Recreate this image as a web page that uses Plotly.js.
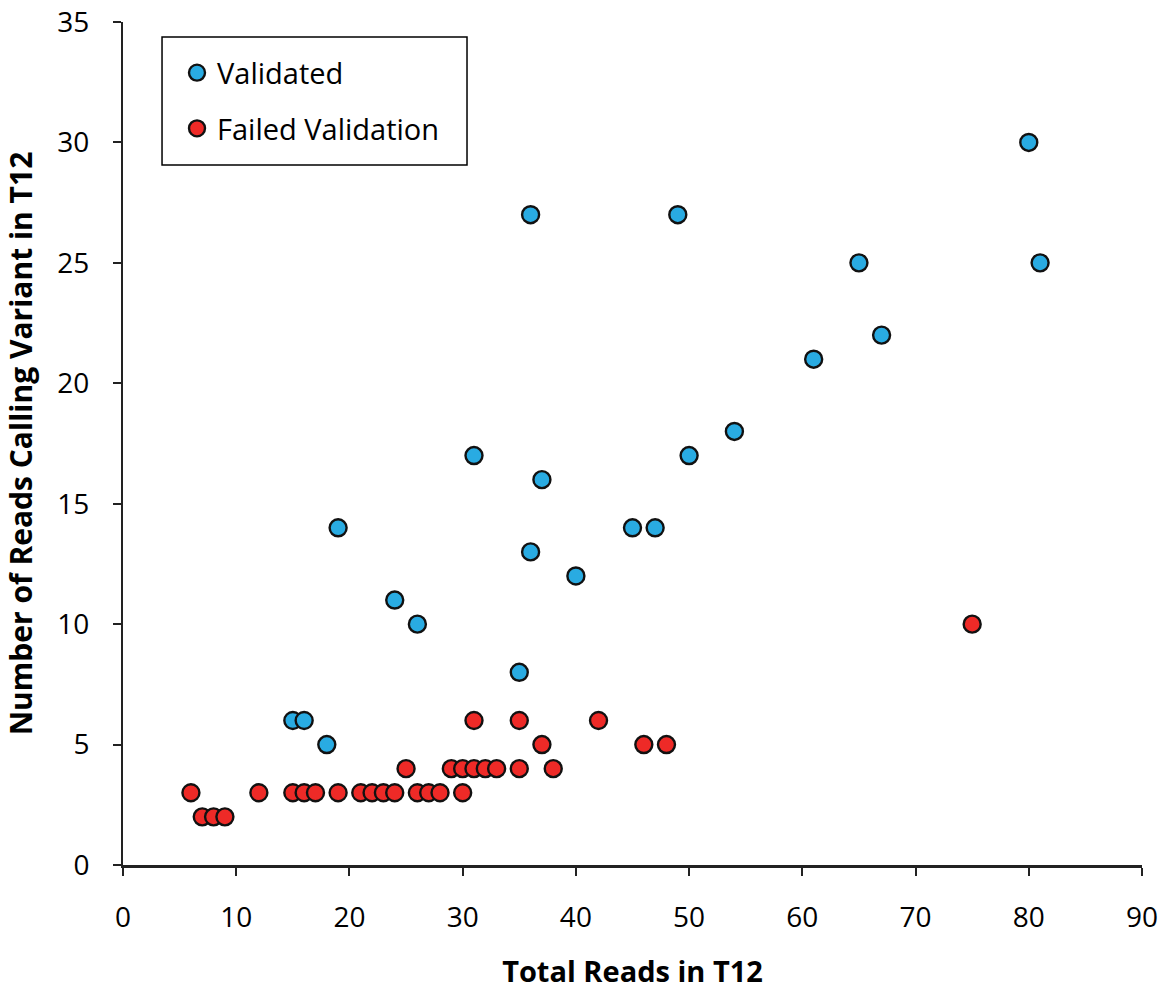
<!DOCTYPE html>
<html>
<head>
<meta charset="utf-8">
<script src="https://cdn.plot.ly/plotly-3.0.1.min.js"></script>
<style>html,body{margin:0;padding:0;background:#fff;}#chart{width:1169px;height:990px;}</style>
</head>
<body>
<div id="chart"></div>
<script>
const validatedX = [15, 16, 18, 19, 24, 26, 31, 35, 36, 36, 37, 40, 45, 47, 49, 50, 54, 61, 65, 67, 80, 81];
const validatedY = [6, 6, 5, 14, 11, 10, 17, 8, 27, 13, 16, 12, 14, 14, 27, 17, 18, 21, 25, 22, 30, 25];
const failedX = [6, 7, 8, 9, 12, 15, 16, 17, 19, 21, 22, 23, 24, 25, 26, 27, 28, 29, 30, 30, 31, 31, 32, 33, 35, 35, 37, 38, 42, 46, 48, 75];
const failedY = [3, 2, 2, 2, 3, 3, 3, 3, 3, 3, 3, 3, 3, 4, 3, 3, 3, 4, 4, 3, 4, 6, 4, 4, 4, 6, 5, 4, 6, 5, 5, 10];
const xTicks = [0, 10, 20, 30, 40, 50, 60, 70, 80, 90];
const yTicks = [0, 5, 10, 15, 20, 25, 30, 35];
const seriesNames = ["Validated", "Failed Validation"];

const fontFam = "'Open Sans', 'Noto Sans', sans-serif";
const traces = [
  {
    x: validatedX, y: validatedY, name: seriesNames[0], type: "scatter", mode: "markers",
    legendgroup: "a",
    marker: {size: 17, color: "#29ABE2", line: {color: "#111", width: 2.4}},
    cliponaxis: false
  },
  {
    x: failedX, y: failedY, name: seriesNames[1], type: "scatter", mode: "markers",
    legendgroup: "b",
    marker: {size: 17, color: "#EE2A27", line: {color: "#111", width: 2.4}},
    cliponaxis: false
  }
];
const layout = {
  width: 1169, height: 990,
  margin: {l: 123, r: 27, t: 22, b: 125},
  paper_bgcolor: "#fff", plot_bgcolor: "#fff",
  font: {family: fontFam, color: "#000", size: 28},
  showlegend: true,
  legend: {
    x: 0.053, y: 0.97, xanchor: "left", yanchor: "top",
    bgcolor: "rgba(0,0,0,0)", borderwidth: 0,
    font: {family: fontFam, size: 29, color: "#000"},
    traceorder: "grouped", tracegroupgap: 15
  },
  shapes: [{
    type: "rect", xref: "paper", yref: "paper",
    x0: 0.0383, x1: 0.3376, y0: 0.8304, y1: 0.9822,
    line: {color: "#000", width: 1.5}, fillcolor: "rgba(0,0,0,0)", layer: "below"
  }],
  xaxis: {
    range: [0, 90], tickvals: xTicks, ticktext: xTicks.map(String),
    showgrid: false, zeroline: false,
    showline: true, linecolor: "#222", linewidth: 3,
    ticks: "outside", ticklen: 8, tickwidth: 2, tickcolor: "#222",
    ticklabelstandoff: 17,
    tickfont: {family: fontFam, size: 28, color: "#000"},
    title: {text: "<b>Total Reads in T12</b>", font: {family: fontFam, size: 29, color: "#000"}, standoff: 38}
  },
  yaxis: {
    range: [0, 35], tickvals: yTicks, ticktext: yTicks.map(String),
    showgrid: false, zeroline: false,
    showline: true, linecolor: "#222", linewidth: 2,
    ticks: "outside", ticklen: 8, tickwidth: 2, tickcolor: "#222",
    ticklabelstandoff: 18,
    tickfont: {family: fontFam, size: 28, color: "#000"},
    title: {text: "<b>Number of Reads Calling Variant in T12</b>", font: {family: fontFam, size: 30, color: "#000"}, standoff: 20}
  }
};
Plotly.newPlot("chart", traces, layout, {displayModeBar: false, staticPlot: true});
</script>
</body>
</html>
